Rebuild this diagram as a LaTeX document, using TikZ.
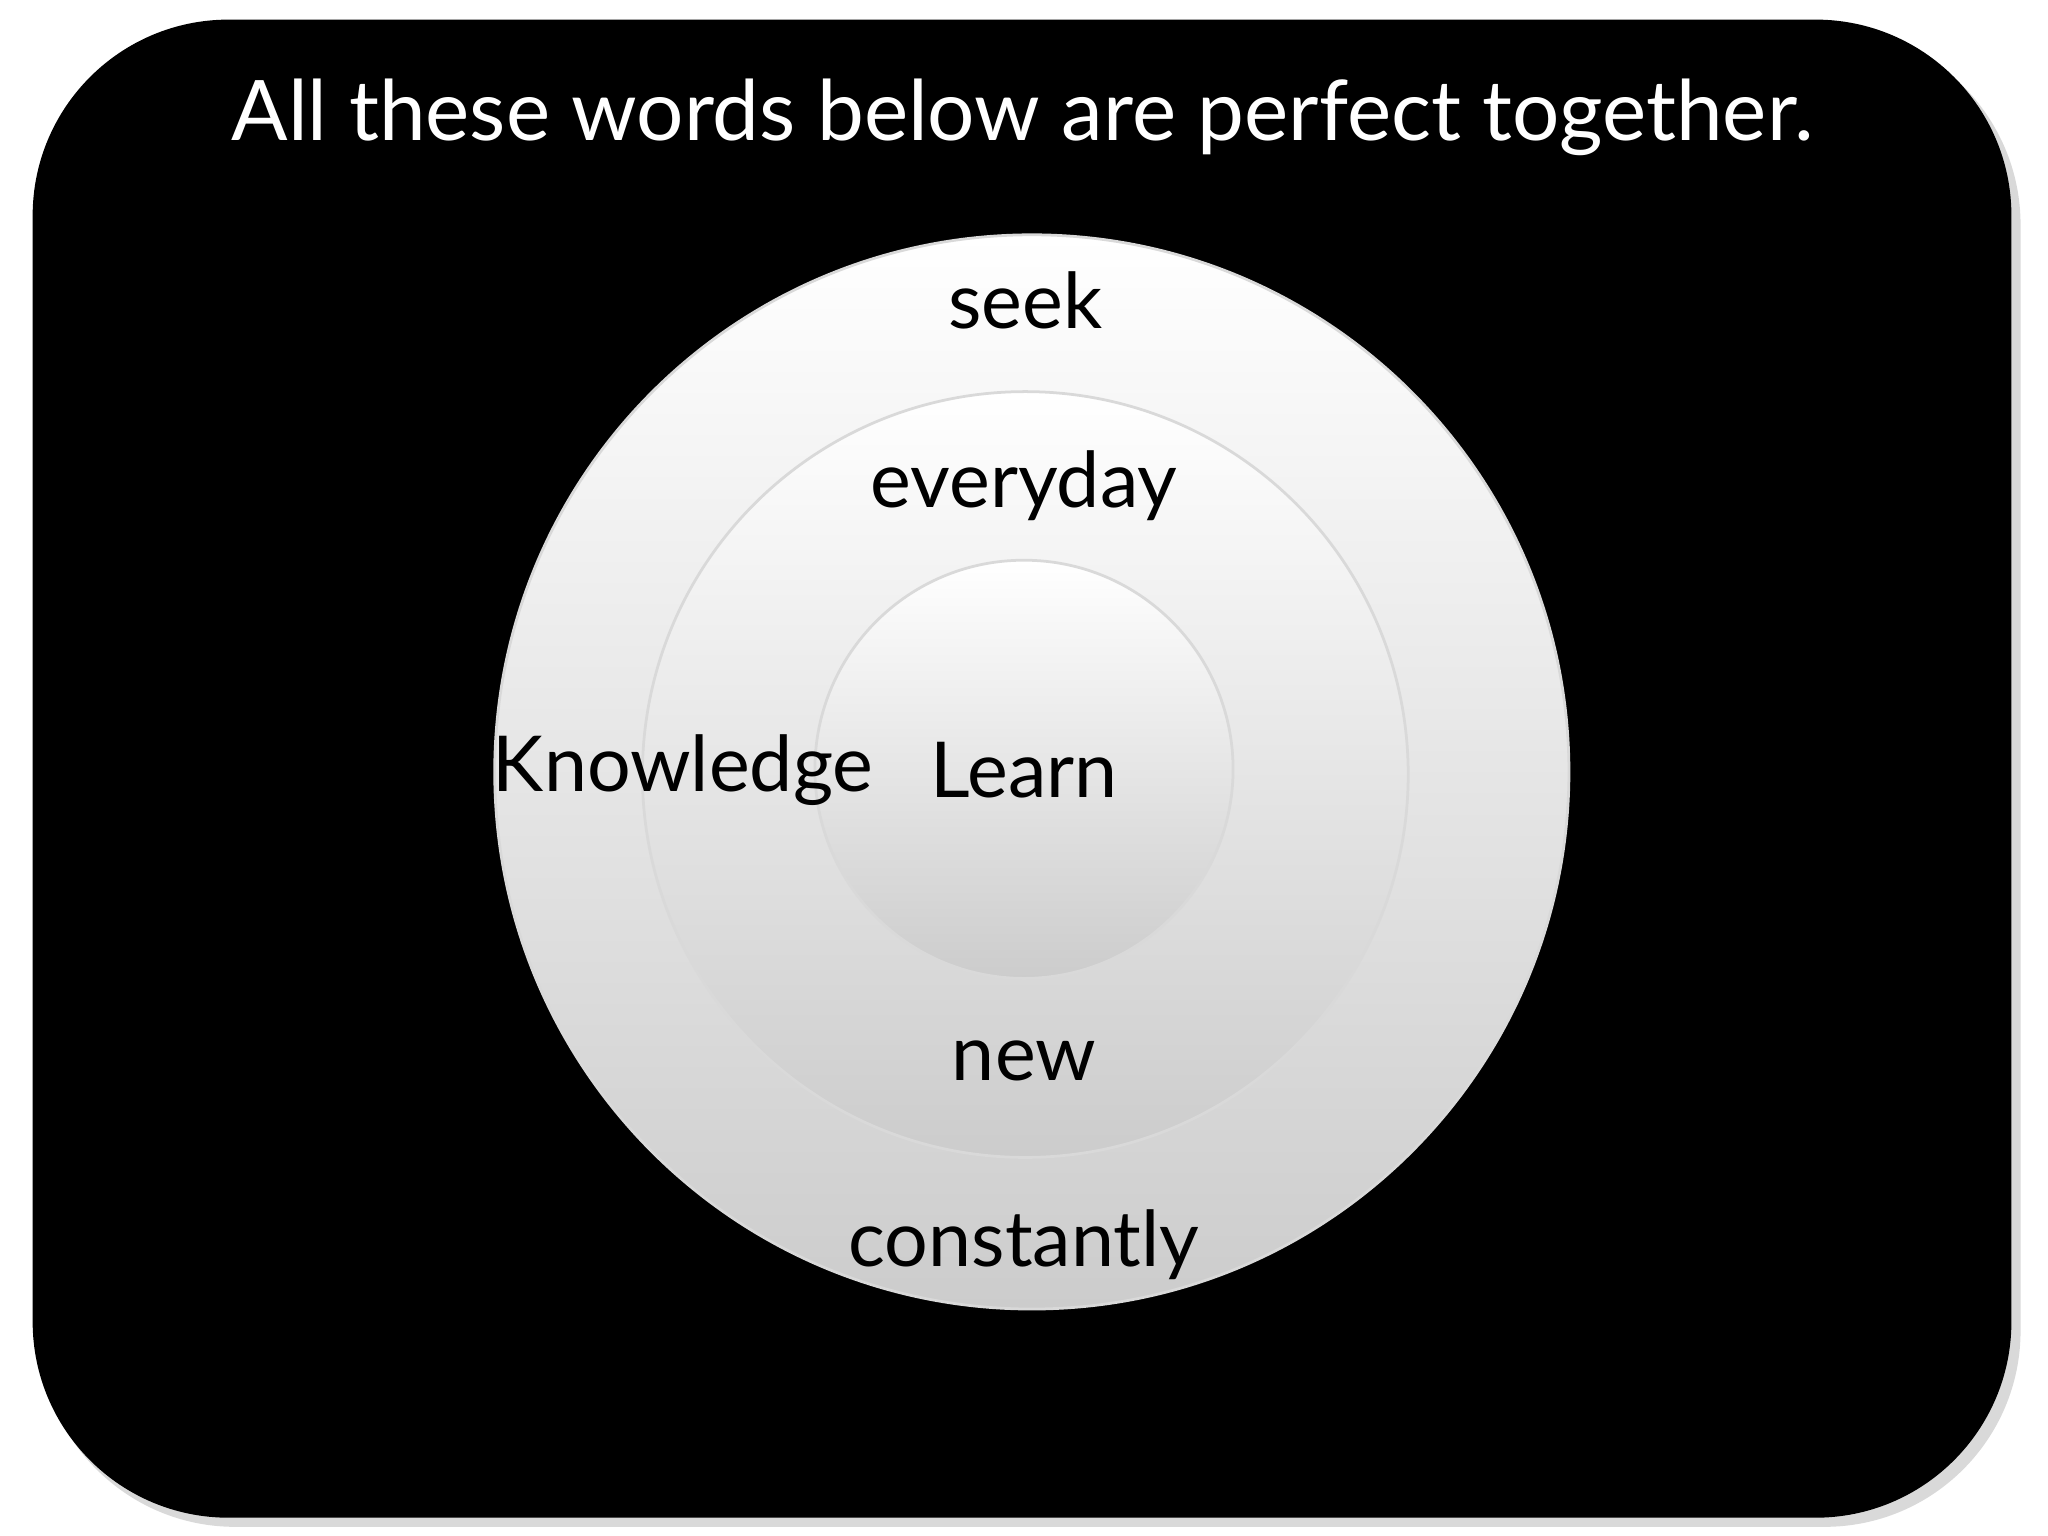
\documentclass[tikz,border=0pt]{standalone}
\usepackage{fontspec}
\setmainfont{Lato}
\begin{document}
\begin{tikzpicture}[x=0.01cm,y=-0.01cm,
  ring/.style={draw=black!15,line width=0.6pt,top color=white,bottom color=black!20},
  word/.style={font=\fontsize{16.8}{20}\selectfont,text=black,inner sep=0pt}]
\useasboundingbox (0,0) rectangle (1568,1176);
\fill[black!15,rounded corners=1.5cm] (30,22) rectangle (1547,1169);
\fill[black,rounded corners=1.5cm] (25,15) rectangle (1540,1162);
\node[ring,circle,minimum size=8.22cm] (outer) at (790,591) {};
\node[ring,circle,minimum size=5.86cm] (mid) at (785,593) {};
\node[ring,circle,minimum size=3.2cm] (inner) at (784,589) {};
\node[font=\fontsize{18.2}{22}\selectfont,text=white] (title) at (783,90) {All these words below are perfect together.};
\node[word] (seek) at (785,230) {seek};
\node[word] (everyday) at (784,372) {everyday};
\node[word] (knowledge) at (523,590) {Knowledge};
\node[word] (learn) at (784,590) {Learn};
\node[word] (new) at (784,812) {new};
\node[word] (constantly) at (784,953) {constantly};
\end{tikzpicture}
\end{document}
